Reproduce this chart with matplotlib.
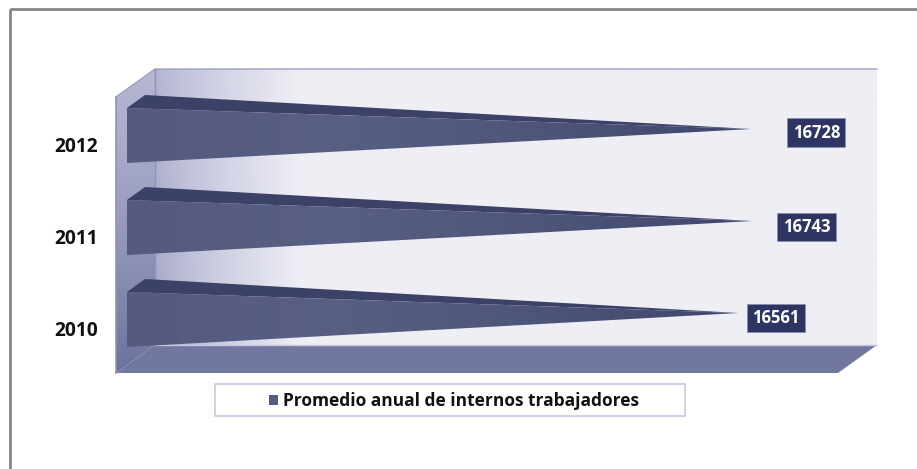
import matplotlib
matplotlib.use('Agg')
import matplotlib.pyplot as plt
import numpy as np
from matplotlib.colors import LinearSegmentedColormap, to_rgb
from matplotlib.patches import Patch, Polygon, Rectangle

plt.rcParams['font.family'] = ['Open Sans', 'DejaVu Sans']

years = ['2010', '2011', '2012']
values = [16561, 16743, 16728]
series_name = 'Promedio anual de internos trabajadores'

# value axis of the original chart does not start at zero
x_min = 8354
x_max = 18421
px_per_unit = 750 / (x_max - x_min)

# label boxes sit at different offsets from each tip (pixels)
label_dx = [37.5, 54.5, 65.5]
label_dy = [-5, -6, -3.5]

front_color = '#555a7e'
top_color = '#3c4168'
box_color = '#2e3563'
floor_color = '#72779f'


def blend(c1, c2, t):
    c1 = np.array(to_rgb(c1))
    c2 = np.array(to_rgb(c2))
    return c1 + (c2 - c1) * t


def wall_gradient():
    # left edge fades to the pale wall colour, darker toward the floor
    t = np.clip(np.linspace(0, 1, 300) / 0.2, 0, 1) ** 0.8
    rows = []
    for r in np.linspace(0, 1, 60):
        left = blend('#b2b4d2', '#a4a7c8', r)
        rows.append([blend(left, '#eeeef5', a) for a in t])
    return np.array(rows)


fig = plt.figure(figsize=(9.17, 4.69), dpi=100, facecolor='white')

# scenery drawn in pixel coordinates
bg = fig.add_axes([0, 0, 1, 1])
bg.set_axis_off()

bg.imshow(wall_gradient(), extent=[155, 877, 345, 69], aspect='auto', zorder=1)

side = Polygon([(116, 97), (155, 69), (155, 345), (116, 373)], closed=True,
               facecolor='none', edgecolor='none', zorder=2)
bg.add_patch(side)
side_img = bg.imshow(np.array([[blend('#b4b6d3', '#6d729c', r)] for r in np.linspace(0, 1, 100) ** 1.3]),
                     extent=[116, 155, 373, 69], aspect='auto', zorder=2)
side_img.set_clip_path(side)

bg.add_patch(Polygon([(116, 373), (838, 373), (877, 345), (155, 345)], closed=True,
                     facecolor=floor_color, edgecolor='none', zorder=3))
bg.plot([116, 155, 877], [97, 69, 69], color='#9da0c4', lw=1, zorder=4)
bg.plot([116, 116], [97, 373], color='#8f93ba', lw=1.2, zorder=4)
bg.plot([155, 155], [69, 345], color='#8f93ba', lw=1, zorder=4)
bg.plot([155, 877], [345, 345], color='#c6c8de', lw=1, zorder=4)

# outer frame of the picture
bg.add_patch(Rectangle((9.5, 9.5), 930, 480, facecolor='none', edgecolor='#858585', lw=2, zorder=5))
# legend box
bg.add_patch(Rectangle((215, 384.5), 470, 32, facecolor='white', edgecolor='#c6c8e0', lw=1.2, zorder=5))

bg.set_xlim(0, 917)
bg.set_ylim(469, 0)

# chart axes: value on x, category on y
ax = fig.add_axes([127 / 917, (469 - 373) / 469, 750 / 917, 304 / 469])
ax.patch.set_alpha(0)
for spine in ax.spines.values():
    spine.set_visible(False)

y_pos = np.arange(len(years))
up = 21 / 92
down = 34 / 92
peak = 34 / 92
depth = 18 / px_per_unit

front_cmap = LinearSegmentedColormap.from_list('front', ['#555a7e', '#595e83', '#4f5479', '#41466d'])

for y, val in zip(y_pos, values):
    top = Polygon([(x_min, y + up), (x_min + depth, y + peak), (val, y)], closed=True,
                  facecolor=top_color, edgecolor='none', zorder=3)
    ax.add_patch(top)
    front = Polygon([(x_min, y + up), (x_min, y - down), (val, y)], closed=True,
                    facecolor='none', edgecolor='none', zorder=4)
    ax.add_patch(front)
    img = ax.imshow(np.linspace(0, 1, 256).reshape(1, -1), cmap=front_cmap,
                    extent=[x_min, val, y - down, y + up], aspect='auto', zorder=4)
    img.set_clip_path(front)

for y, val, dx, dy in zip(y_pos, values, label_dx, label_dy):
    ax.annotate(str(val), (val, y), xytext=(dx, dy), textcoords='offset pixels',
                ha='center', va='center', color='white', fontsize=12, fontweight='bold',
                bbox=dict(boxstyle='square,pad=0.32', facecolor=box_color, edgecolor='#8a8db0', lw=0.5),
                zorder=6)

ax.set_xlim(x_min, x_max)
ax.set_ylim(-60 / 92, len(years) - 1 + 60 / 92)
ax.set_xticks([])
# year labels sit a little below each bar centre
ax.set_yticks(y_pos - 15 / 92)
ax.set_yticklabels(years, fontsize=13.8, fontweight='bold', color='#111111')
ax.tick_params(axis='y', length=0, pad=21)

handle = Patch(facecolor=front_color, edgecolor='none', label=series_name)
leg = fig.legend(handles=[handle], loc='center', bbox_to_anchor=(454 / 917, (469 - 401) / 469),
                 frameon=False, handlelength=0.52, handleheight=0.52, handletextpad=0.3,
                 prop={'size': 12.5, 'weight': 'bold'})
leg.get_texts()[0].set_color('#111111')

fig.savefig('out.png', dpi=100)
